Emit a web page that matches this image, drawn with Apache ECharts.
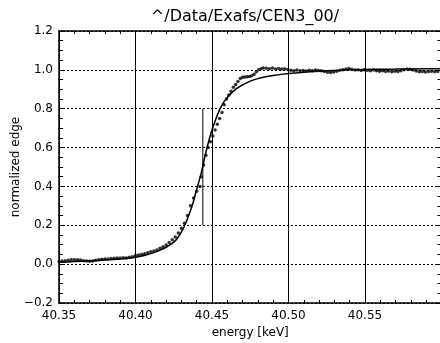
<!DOCTYPE html>
<html>
<head>
<meta charset="utf-8">
<script src="https://cdn.jsdelivr.net/npm/echarts@6/dist/echarts.min.js"></script>
<style>html,body{margin:0;padding:0;background:#fff}#c{width:440px;height:343px}</style>
</head>
<body>
<div id="c"></div>
<script>
// ---- data ----
const titleText = "^/Data/Exafs/CEN3_00/";
const xName = "energy [keV]";
const yName = "normalized edge";
const xTicks = [40.35, 40.40, 40.45, 40.50, 40.55];
const yTicks = [-0.2, 0.0, 0.2, 0.4, 0.6, 0.8, 1.0, 1.2];

// measured points (energy keV)
const dataE = [
 40.350,40.352,40.354,40.356,40.358,40.360,40.362,40.364,40.366,40.368,
 40.370,40.372,40.374,40.376,40.378,40.380,40.382,40.384,40.386,40.388,
 40.390,40.392,40.394,40.396,40.398,40.400,40.402,40.404,40.406,40.408,
 40.410,40.412,40.414,40.416,40.418,40.420,40.422,40.424,40.426,40.428,
 40.430,40.432,40.434,40.436,40.438,40.440,40.4422,40.4430,40.4445,40.4460,
 40.4475,40.4490,40.4505,40.4520,40.4535,40.4550,40.4565,40.4580,40.4595,40.4610,
 40.4625,40.4640,40.4655,40.4670,40.4685,40.4700,40.4715,40.4730,40.4745,40.4760,
 40.4775,40.4790,40.4805,40.4820,40.4835,
 40.4855,40.4875,40.4895,40.4915,40.4935,40.4955,40.4975,40.4995,40.5015,40.5035,
 40.5055,40.5075,40.5095,40.5115,40.5135,40.5155,40.5175,40.5195,40.5215,40.5235,
 40.5255,40.5275,40.5295,40.5315,40.5335,40.5355,40.5375,40.5395,40.5415,40.5435,
 40.5455,40.5475,40.5495,40.5515,40.5535,40.5555,40.5575,40.5595,40.5615,40.5635,
 40.5655,40.5675,40.5695,40.5715,40.5735,40.5755,40.5775,40.5795,40.5815,40.5835,
 40.5855,40.5875,40.5895,40.5915,40.5935,40.5955,40.5975
];
// measured normalized absorption
const dataMu = [
 0.014,0.016,0.018,0.020,0.022,0.023,0.022,0.021,0.018,0.016,
 0.015,0.016,0.020,0.023,0.025,0.026,0.027,0.029,0.030,0.031,
 0.032,0.033,0.032,0.036,0.038,0.044,0.047,0.050,0.054,0.058,
 0.064,0.068,0.073,0.082,0.090,0.099,0.112,0.125,0.140,0.160,
 0.185,0.210,0.250,0.300,0.340,0.375,0.400,0.450,0.510,0.560,
 0.600,0.630,0.660,0.690,0.720,0.750,0.780,0.820,0.850,0.870,
 0.890,0.910,0.925,0.940,0.955,0.962,0.963,0.964,0.966,0.970,
 0.978,0.990,1.000,1.006,1.009,
 1.008,1.006,1.009,1.005,1.007,1.004,1.006,1.002,0.998,0.996,
 0.999,0.995,0.997,0.994,0.998,0.996,0.999,0.997,0.995,0.992,
 0.988,0.986,0.989,0.993,0.998,1.001,1.004,1.007,1.003,0.999,
 1.001,0.997,1.000,0.998,0.996,0.999,0.995,0.993,0.995,0.991,
 0.994,0.990,0.993,0.991,0.996,1.001,1.004,1.003,0.999,0.994,
 0.990,0.992,0.989,0.991,0.993,0.990,0.992
];

// fitted edge curve
const fitE = [
 40.350,40.360,40.370,40.380,40.390,40.400,40.405,40.410,40.415,40.420,
 40.425,40.428,40.431,40.434,40.437,40.440,40.443,40.446,40.449,40.452,
 40.455,40.458,40.462,40.466,40.470,40.475,40.480,40.485,40.490,40.500,
 40.510,40.520,40.530,40.540,40.550,40.560,40.570,40.580,40.600
];
const fitMu = [
 0.010,0.013,0.017,0.021,0.027,0.036,0.043,0.054,0.068,0.087,
 0.113,0.140,0.180,0.235,0.300,0.385,0.470,0.575,0.665,0.735,
 0.795,0.838,0.875,0.903,0.923,0.942,0.955,0.964,0.971,0.981,
 0.988,0.993,0.997,1.000,1.002,1.003,1.004,1.005,1.006
];

// E0 marker
const e0 = 40.4440;
const e0Range = [0.2, 0.8];

// ---- build chart ----
const FONT = "DejaVu Sans";
const zip = (a, b) => a.map((v, i) => [v, b[i]]);
const chart = echarts.init(document.getElementById('c'), null, {renderer: 'canvas'});

const xCommon = {type: 'value', min: xTicks[0], max: 40.60, interval: 0.05};
const yCommon = {type: 'value', min: yTicks[0], max: yTicks[yTicks.length - 1], interval: 0.2};
const axLine = {show: true, onZero: false, lineStyle: {color: '#000', width: 1.5}};
const tick = {show: true, inside: true, length: 6, lineStyle: {color: '#000', width: 1}};

chart.setOption({
  animation: false,
  backgroundColor: '#fff',
  title: {
    text: titleText, left: 245, top: 9, textAlign: 'center', padding: 0,
    textStyle: {fontFamily: FONT, fontSize: 16, fontWeight: 'normal', color: '#000'}
  },
  grid: {left: 59, top: 31, width: 382.5, height: 272, containLabel: false, outerBoundsMode: 'none'},
  xAxis: [
    Object.assign({}, xCommon, {
      position: 'bottom',
      name: xName, nameLocation: 'middle', nameGap: 24, nameMoveOverlap: false,
      nameTextStyle: {fontFamily: FONT, fontSize: 12, color: '#000'},
      axisLine: axLine, axisTick: tick,
      minorTick: {show: true, splitNumber: 5, length: 3, lineStyle: {color: '#000'}},
      axisLabel: {
        formatter: v => v.toFixed(2), showMaxLabel: false, margin: 7,
        fontFamily: FONT, fontSize: 12, color: '#000'
      },
      splitLine: {show: true, lineStyle: {color: '#000', width: 1, type: 'solid'}}
    }),
    Object.assign({}, xCommon, {
      position: 'top',
      axisLine: axLine, axisTick: tick,
      minorTick: {show: true, splitNumber: 5, length: 3, lineStyle: {color: '#000'}},
      axisLabel: {show: false}, splitLine: {show: false}
    })
  ],
  yAxis: [
    Object.assign({}, yCommon, {
      position: 'left',
      name: yName, nameLocation: 'middle', nameGap: 37, nameRotate: 90, nameMoveOverlap: false,
      nameTextStyle: {fontFamily: FONT, fontSize: 12, color: '#000'},
      axisLine: axLine, axisTick: tick,
      minorTick: {show: true, splitNumber: 4, length: 4, lineStyle: {color: '#000'}},
      axisLabel: {
        formatter: v => (v < 0 ? '\u2212' : '') + Math.abs(v).toFixed(1), margin: 6,
        fontFamily: FONT, fontSize: 12, color: '#000'
      },
      splitLine: {show: true, lineStyle: {color: '#000', width: 1, type: [2, 2]}}
    }),
    Object.assign({}, yCommon, {
      position: 'right',
      axisLine: axLine, axisTick: tick,
      minorTick: {show: true, splitNumber: 4, length: 4, lineStyle: {color: '#000'}},
      axisLabel: {show: false}, splitLine: {show: false}
    })
  ],
  series: [
    {
      type: 'scatter', data: zip(dataE, dataMu), symbol: 'circle', symbolSize: 3.5,
      itemStyle: {color: '#000'}, silent: true
    },
    {
      type: 'line', data: zip(fitE, fitMu), showSymbol: false, smooth: 0.3,
      lineStyle: {color: '#000', width: 1.5}, silent: true
    },
    {
      type: 'line', data: [[e0, e0Range[0]], [e0, e0Range[1]]], showSymbol: false,
      lineStyle: {color: '#000', width: 1}, silent: true
    }
  ]
});
</script>
</body>
</html>
